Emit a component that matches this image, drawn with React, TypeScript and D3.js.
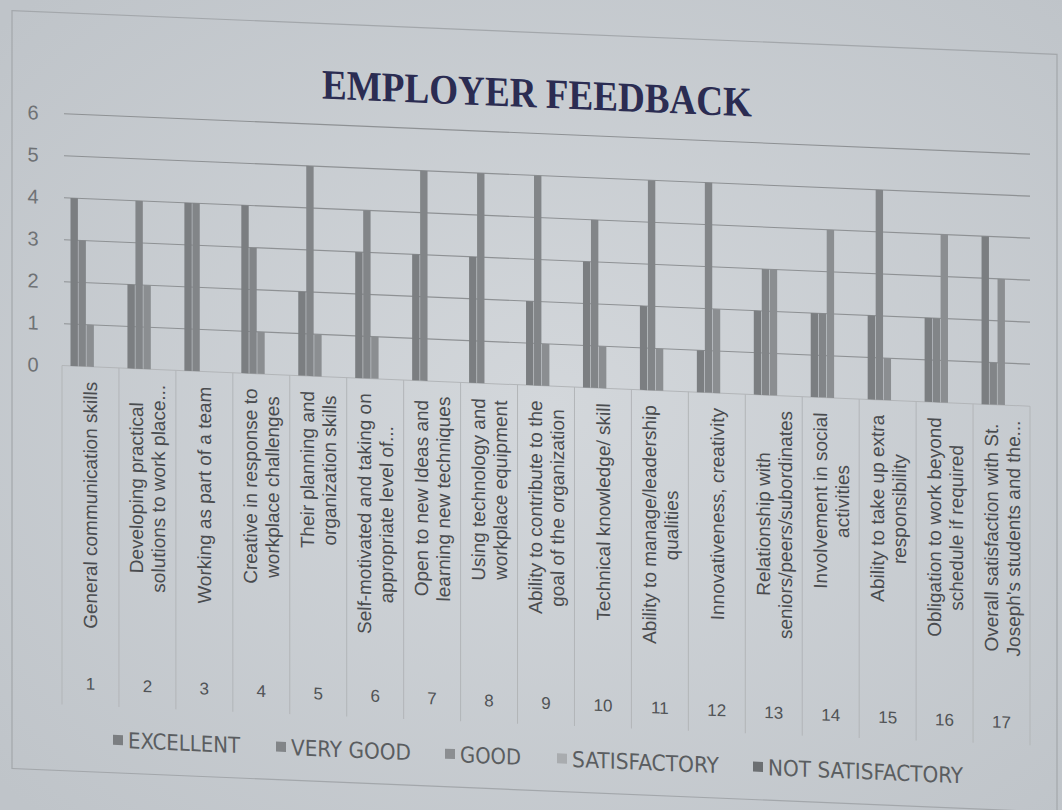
import React, { useEffect, useRef } from 'react';
import * as d3 from 'd3';

// categories (level 2 of the axis) and their descriptions (level 1)
const categories = ['1', '2', '3', '4', '5', '6', '7', '8', '9', '10', '11', '12', '13', '14', '15', '16', '17'];
const categoryLabels = [
  ['General communication skills'],
  ['Developing practical', 'solutions to work place...'],
  ['Working as part of a team'],
  ['Creative in response to', 'workplace challenges'],
  ['Their planning and', 'organization skills'],
  ['Self-motivated and taking on', 'appropriate level of...'],
  ['Open to new Ideas and', 'learning new techniques'],
  ['Using technology and', 'workplace equipment'],
  ['Ability to contribute to the', 'goal of the organization'],
  ['Technical knowledge/ skill'],
  ['Ability to manage/leadership', 'qualities'],
  ['Innovativeness, creativity'],
  ['Relationship with', 'seniors/peers/subordinates'],
  ['Involvement in social', 'activities'],
  ['Ability to take up extra', 'responsibility'],
  ['Obligation to work beyond', 'schedule if required'],
  ['Overall satisfaction with St.', "Joseph's students and the..."],
];

const seriesNames = ['EXCELLENT', 'VERY GOOD', 'GOOD', 'SATISFACTORY', 'NOT SATISFACTORY'];
const excellent = [4, 2, 4, 4, 2, 3, 3, 3, 2, 3, 2, 1, 2, 2, 2, 2, 4];
const veryGood = [3, 4, 4, 3, 5, 4, 5, 5, 5, 4, 5, 5, 3, 2, 5, 2, 1];
const good = [1, 2, 0, 1, 1, 1, 0, 0, 1, 1, 1, 2, 3, 4, 1, 4, 3];
const satisfactory = [0, 0, 0, 0, 0, 0, 0, 0, 0, 0, 0, 0, 0, 0, 0, 0, 0];
const notSatisfactory = [0, 0, 0, 0, 0, 0, 0, 0, 0, 0, 0, 0, 0, 0, 0, 0, 0];
const yTicks = [0, 1, 2, 3, 4, 5, 6];

const width = 1062;
const height = 810;
const seriesColors = ['#7b7e81', '#828588', '#8b8e91', '#a9acaf', '#6c6f72'];
const legendX = [113, 276, 445, 557, 753];
const legendTextWidth = [112, 120, 61, 147, 195];

export default function App() {
  const ref = useRef<SVGSVGElement>(null);

  useEffect(() => {
    const svg = d3.select(ref.current);
    svg.selectAll('*').remove();

    const values = [excellent, veryGood, good, satisfactory, notSatisfactory];

    // photo-like background
    const grad = svg.append('defs').append('radialGradient').attr('id', 'bg')
      .attr('cx', '52%').attr('cy', '50%').attr('r', '70%');
    grad.append('stop').attr('offset', '0%').attr('stop-color', '#d3d7db');
    grad.append('stop').attr('offset', '100%').attr('stop-color', '#bfc4c9');
    svg.append('rect').attr('width', width).attr('height', height).attr('fill', 'url(#bg)');

    // the printed page is slightly tilted in the photo
    const g = svg.append('g').attr('transform', 'skewY(2.4)');

    g.append('rect')
      .attr('x', 12).attr('y', 10)
      .attr('width', 1045).attr('height', 758)
      .attr('fill', 'none').attr('stroke', '#a3a7ab').attr('stroke-width', 1.2);

    g.append('text')
      .attr('x', 537).attr('y', 85)
      .attr('text-anchor', 'middle')
      .attr('font-family', '"Liberation Serif", "DejaVu Serif", serif')
      .attr('font-weight', 'bold')
      .attr('font-size', 42)
      .attr('textLength', 430)
      .attr('lengthAdjust', 'spacingAndGlyphs')
      .attr('fill', '#2b2c52')
      .text('EMPLOYER FEEDBACK');

    const yScale = d3.scaleLinear().domain([0, 6]).range([363, 111]);
    const xScale = d3.scaleBand().domain(categories).range([62, 1030]);
    const bw = xScale.bandwidth();
    const x1 = d3.scaleBand().domain(seriesNames).range([8.5, bw - 8.5]);

    // gridlines
    g.selectAll('line.grid')
      .data(yTicks.filter((t) => t > 0))
      .enter()
      .append('line')
      .attr('class', 'grid')
      .attr('x1', 64).attr('x2', 1030)
      .attr('y1', (t) => yScale(t)).attr('y2', (t) => yScale(t))
      .attr('stroke', '#8e9194').attr('stroke-width', 1.1);

    g.selectAll('text.ytick')
      .data(yTicks)
      .enter()
      .append('text')
      .attr('class', 'ytick')
      .attr('x', 33)
      .attr('y', (t) => yScale(t) + 7)
      .attr('text-anchor', 'middle')
      .attr('font-family', '"Liberation Sans", Arial, sans-serif')
      .attr('font-size', 20)
      .attr('fill', '#6f7275')
      .text((t) => t);

    // category table
    const edges = categories.map((c) => xScale(c) as number).concat([1030]);
    g.selectAll('line.div')
      .data(edges)
      .enter()
      .append('line')
      .attr('class', 'div')
      .attr('x1', (d) => d).attr('x2', (d) => d)
      .attr('y1', yScale(0)).attr('y2', 702)
      .attr('stroke', '#b2b5b8').attr('stroke-width', 1);
    g.append('line')
      .attr('x1', 62).attr('x2', 1030)
      .attr('y1', yScale(0)).attr('y2', yScale(0))
      .attr('stroke', '#b2b5b8').attr('stroke-width', 1);

    // bars
    categories.forEach((c, i) => {
      seriesNames.forEach((s, k) => {
        const v = values[k][i];
        if (!v) return;
        g.append('rect')
          .attr('x', (xScale(c) as number) + (x1(s) as number))
          .attr('y', yScale(v))
          .attr('width', x1.bandwidth() - 0.6)
          .attr('height', yScale(0) - yScale(v))
          .attr('fill', seriesColors[k]);
      });
    });

    // rotated category descriptions
    const lineGap = 22;
    categories.forEach((c, i) => {
      const cx = (xScale(c) as number) + bw / 2;
      const lines = categoryLabels[i];
      const lg = g.append('g');
      const texts = lines.map((ln) =>
        lg.append('text')
          .attr('text-anchor', 'middle')
          .attr('font-family', '"Liberation Sans", Arial, sans-serif')
          .attr('font-size', 19)
          .attr('fill', '#4a4c4f')
          .text(ln)
      );
      const maxW = d3.max(texts, (t) => (t.node() as SVGTextElement).getComputedTextLength()) || 0;
      const midY = 378 + maxW / 2;
      texts.forEach((t, k) => {
        const bx = cx + (k - (lines.length - 1) / 2) * lineGap + 7;
        t.attr('transform', 'translate(' + bx + ',' + midY + ') rotate(-90)');
      });
    });

    g.selectAll('text.num')
      .data(categories)
      .enter()
      .append('text')
      .attr('class', 'num')
      .attr('x', (c) => (xScale(c) as number) + bw / 2)
      .attr('y', 686)
      .attr('text-anchor', 'middle')
      .attr('font-family', '"Liberation Sans", Arial, sans-serif')
      .attr('font-size', 17)
      .attr('fill', '#505356')
      .text((c) => c);

    // legend
    seriesNames.forEach((s, k) => {
      g.append('rect')
        .attr('x', legendX[k]).attr('y', 730)
        .attr('width', 10).attr('height', 10)
        .attr('fill', seriesColors[k]);
      g.append('text')
        .attr('x', legendX[k] + 15).attr('y', 743)
        .attr('font-family', '"Liberation Sans Narrow", "DejaVu Sans Condensed", "Liberation Sans", sans-serif')
        .attr('font-size', 22)
        .attr('textLength', legendTextWidth[k])
        .attr('lengthAdjust', 'spacingAndGlyphs')
        .attr('fill', '#5a5d60')
        .text(s);
    });
  }, []);

  return (
    <svg
      ref={ref}
      width={width}
      height={height}
      style={{ position: 'absolute', left: 0, top: 0 }}
    />
  );
}
